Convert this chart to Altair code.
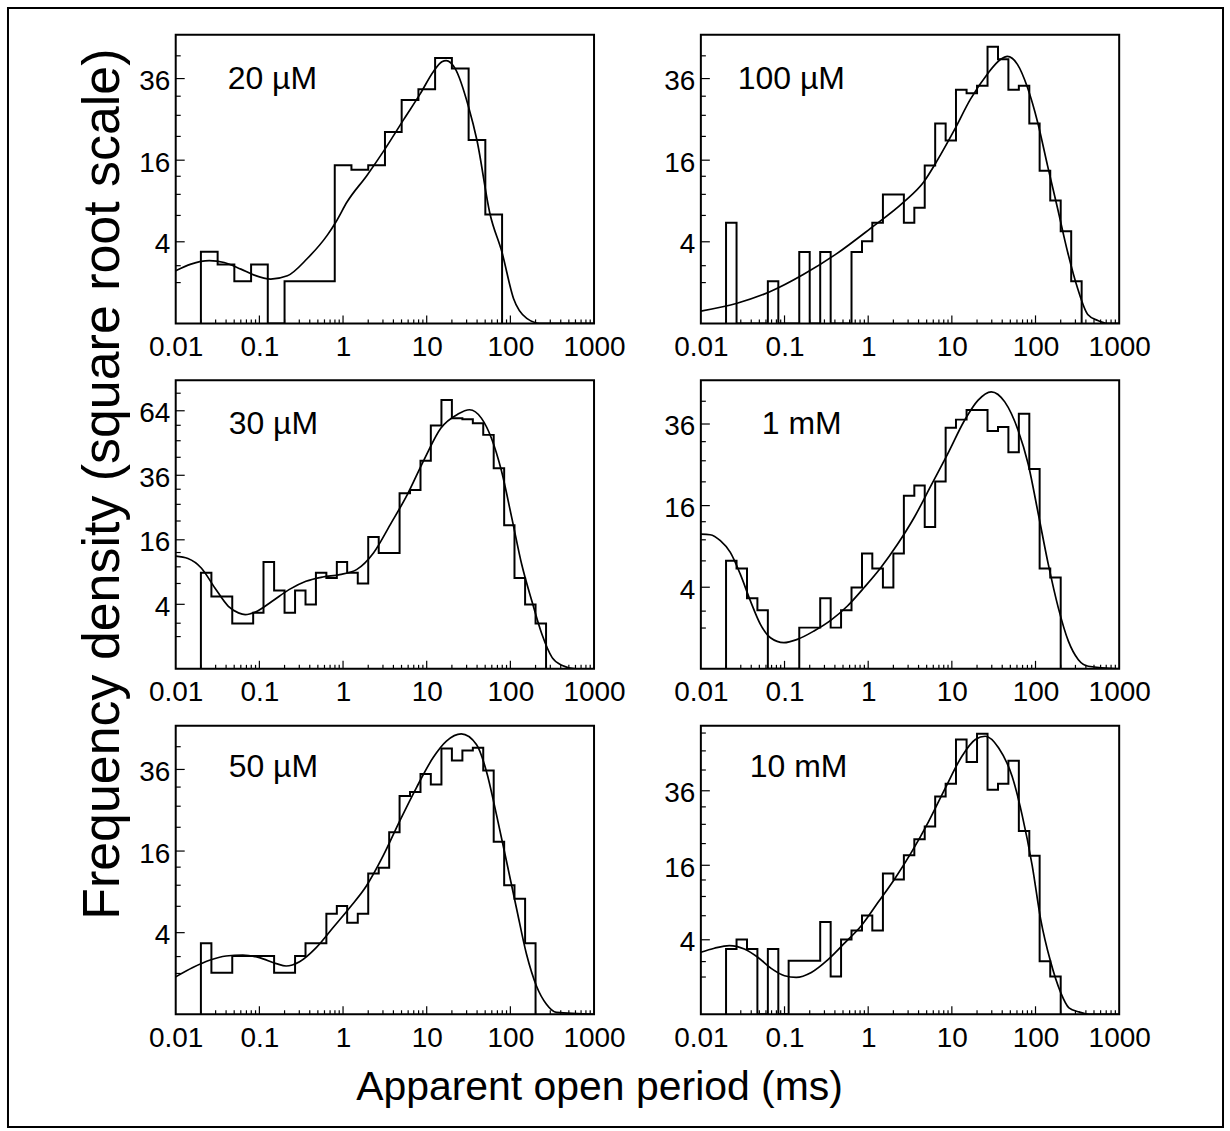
import altair as alt
import pandas as pd

FONT = "Liberation Sans"
W, H = 419, 289

# ---------------- panel metadata ----------------
LABELS = ["20 µM", "100 µM", "30 µM", "1 mM", "50 µM", "10 mM"]
LABEL_X = [52, 37, 53, 61, 53, 49]
LABEL_Y = [54, 54, 54, 54, 51, 51]
Y_MAX = [50, 50, 80, 50, 50, 60]
Y_LABELLED = [[4, 16, 36], [4, 16, 36], [4, 16, 36, 64], [4, 16, 36], [4, 16, 36], [4, 16, 36]]
Y_MINOR = [1, 2, 7, 10, 13, 21, 26, 31, 43, 50, 57, 73]
X_LABELLED = [0.01, 0.1, 1, 10, 100, 1000]
X_MAJOR = [0.1, 1, 10, 100]
X_MINOR = [0.02, 0.03, 0.04, 0.05, 0.06, 0.07, 0.08, 0.09,
           0.2, 0.3, 0.4, 0.5, 0.6, 0.7, 0.8, 0.9,
           2, 3, 4, 5, 6, 7, 8, 9,
           20, 30, 40, 50, 60, 70, 80, 90,
           200, 300, 400, 500, 600, 700, 800, 900]

# ---------------- histogram bin edges (ms) ----------------
EDGES_5 = [0.02, 0.0317, 0.0502, 0.0796, 0.126, 0.2, 0.317, 0.502, 0.796, 1.26,
           2.0, 3.17, 5.02, 7.96, 12.6, 20.0, 31.7, 50.2, 79.6]
EDGES_8 = [0.02, 0.0267, 0.0356, 0.0474, 0.0632, 0.0843, 0.112, 0.15,
           0.2, 0.267, 0.356, 0.474, 0.632, 0.843, 1.12, 1.5,
           2.0, 2.67, 3.56, 4.74, 6.32, 8.43, 11.2, 15.0,
           20.0, 26.7, 35.6, 47.4, 63.2, 84.3, 112, 150,
           200, 267, 356]

# ---------------- histogram heights ----------------
H_20uM = [3.08, 2.09, 1.07, 2.09, 0, 1.07, 1.07, 1.07, 15.0, 14.2, 15.0, 22.0,
          30.0, 32.9, 42.3, 39.0, 20.2, 7.13]
H_100uM = [6.09, 0, 0, 0, 1.07, 0, 0, 3.07, 0, 3.07, 0, 0, 3.07, 4.05, 6.09, 9.98,
           9.98, 6.09, 8.03, 14.97, 24.0, 20.1, 32.8, 31.8, 33.9, 46.0, 41.9, 32.8,
           33.9, 24.0, 14.0, 9.08, 5.09, 1.07]
H_30uM = [8.89, 5.02, 5.02, 1.97, 1.97, 3.01, 10.97, 5.88, 3.01, 5.88, 3.97, 8.89,
          7.94, 10.97, 8.89, 6.98, 16.7, 12.9, 12.9, 29.6, 30.7, 41.6, 56.9, 69.5,
          60.4, 59.9, 58.0, 52.6, 38.7, 19.8, 7.94, 3.97, 1.97]
H_1mM = [7.01, 6.05, 2.99, 2.06, 0, 0, 0, 1.02, 1.02, 2.99, 1.02, 2.06, 3.97, 8.00,
         6.05, 3.97, 8.00, 18.0, 20.2, 12.1, 21.1, 34.9, 37.3, 40.2, 40.2, 34.0,
         35.1, 28.2, 39.1, 24.0, 6.05, 5.01]
H_50uM = [3.02, 1.04, 1.04, 2.04, 2.04, 2.04, 2.04, 1.04, 1.04, 2.04, 3.02, 3.02,
          6.08, 7.04, 5.04, 6.08, 11.9, 12.9, 19.9, 28.6, 29.7, 34.7, 31.7, 42.4,
          38.7, 41.8, 42.7, 35.7, 17.9, 9.98, 8.02, 3.02]
H_10mM = [3.08, 4.02, 3.08, 0, 3.08, 0, 2.07, 2.07, 2.07, 6.12, 1.03, 4.02, 5.05,
          7.04, 5.05, 14.3, 13.1, 18.2, 22.1, 25.4, 34.2, 38.3, 54.4, 45.9, 56.7,
          36.3, 38.3, 46.3, 24.2, 18.1, 2.02, 1.03]

# ---------------- fitted curves (ms, density) ----------------
C_20uM_X = [0.01, 0.0152, 0.0252, 0.038, 0.0601, 0.0867, 0.137, 0.216, 0.374, 0.649,
            0.815, 1.12, 1.94, 3.21, 5.32, 8.39, 12.1, 15.2, 17.1, 21.9, 31.6, 39.8,
            57.3, 79.1, 109, 157, 226, 1000]
C_20uM_Y = [1.66, 2.11, 2.36, 2.23, 1.77, 1.40, 1.18, 1.36, 2.53, 4.68, 6.12, 8.88,
            13.2, 18.4, 25.0, 31.7, 38.2, 41.1, 41.5, 39.0, 28.2, 20.2, 7.13, 3.08,
            0.375, 0.015, 0, 0]
C_100uM_X = [0.01, 0.0265, 0.0667, 0.1675, 0.421, 1.057, 2.65, 4.61, 6.67, 10.6, 16.7,
             26.5, 38.4, 46.1, 60.8, 80.2, 106, 139, 184, 242, 319, 421, 555, 731, 1000]
C_100uM_Y = [0.09, 0.239, 0.599, 1.43, 2.92, 5.39, 8.83, 12.0, 15.9, 22.3, 30.2,
             37.3, 41.9, 42.8, 40.3, 33.4, 24.3, 15.0, 7.90, 3.06, 0.73, 0.048, 0.005, 0, 0]
C_30uM_X = [0.01, 0.014, 0.0202, 0.0294, 0.0426, 0.0562, 0.0678, 0.0895, 0.142, 0.226,
            0.36, 0.573, 0.912, 1.45, 2.31, 3.67, 5.84, 9.29, 14.8, 23.5, 32.5, 45.0,
            59.4, 78.5, 104, 137, 181, 239, 316, 418, 600, 1000]
C_30uM_Y = [12.2, 11.7, 9.78, 6.29, 3.76, 3.01, 2.83, 3.11, 4.39, 6.03, 7.37, 8.11,
            8.53, 9.46, 12.9, 20.0, 29.1, 42.0, 55.7, 62.3, 64.5, 60.4, 51.1, 37.5,
            21.9, 10.4, 4.39, 1.13, 0.12, 0.01, 0, 0]
C_1mM_X = [0.01, 0.0129, 0.0171, 0.0225, 0.0296, 0.0391, 0.0515, 0.0679, 0.0982, 0.142,
           0.225, 0.356, 0.565, 0.895, 1.42, 2.25, 3.56, 5.65, 8.95, 14.2, 20.5, 29.6,
           42.9, 61.9, 81.7, 108, 142, 187, 247, 325, 429, 1000]
C_1mM_Y = [10.9, 10.8, 9.86, 8.14, 5.38, 2.77, 1.19, 0.58, 0.41, 0.52, 0.86, 1.41,
           2.37, 3.97, 6.17, 9.35, 13.8, 20.2, 27.8, 37.1, 43.3, 46.1, 42.8, 34.2,
           25.2, 14.4, 6.58, 2.25, 0.46, 0.05, 0.004, 0]
C_50uM_X = [0.01, 0.016, 0.0253, 0.04, 0.0634, 0.1, 0.159, 0.209, 0.302, 0.478, 0.757,
            1.2, 1.9, 3.0, 4.75, 7.52, 11.9, 17.2, 25.9, 39.3, 51.7, 68.1, 89.8, 118,
            156, 205, 270, 356, 1000]
C_50uM_Y = [0.84, 1.31, 1.75, 2.04, 2.11, 1.93, 1.54, 1.40, 1.66, 2.67, 4.50, 6.82,
            9.88, 15.0, 22.4, 30.8, 39.5, 44.8, 47.2, 43.7, 35.5, 24.0, 14.1, 6.82,
            2.16, 0.48, 0.06, 0.002, 0]
C_10mM_X = [0.01, 0.0145, 0.0219, 0.0331, 0.0479, 0.0692, 0.1, 0.138, 0.209, 0.331,
            0.525, 0.832, 1.32, 2.09, 3.31, 5.25, 8.32, 13.2, 19.1, 25.1, 36.3, 52.5,
            69.2, 91.2, 115, 151, 200, 251, 331, 437, 1000]
C_10mM_Y = [2.77, 3.14, 3.40, 3.07, 2.34, 1.52, 1.07, 0.98, 1.26, 2.15, 3.67, 5.68,
            9.07, 13.3, 19.0, 26.7, 36.8, 48.0, 54.4, 55.7, 51.1, 40.8, 28.6, 16.0,
            6.57, 2.02, 0.34, 0.03, 0.004, 0, 0]

PANELS = [
    (EDGES_5, H_20uM, C_20uM_X, C_20uM_Y),
    (EDGES_8, H_100uM, C_100uM_X, C_100uM_Y),
    (EDGES_8, H_30uM, C_30uM_X, C_30uM_Y),
    (EDGES_8, H_1mM, C_1mM_X, C_1mM_Y),
    (EDGES_8, H_50uM, C_50uM_X, C_50uM_Y),
    (EDGES_8, H_10mM, C_10mM_X, C_10mM_Y),
]


def hist_frame(edges, heights):
    n = len(heights)
    t = [edges[0]] + list(edges[:n]) + [edges[n]]
    f = [0] + list(heights) + [0]
    return pd.DataFrame({"t": t, "f": f, "i": list(range(len(t)))})


def make_panel(k):
    edges, heights, cx, cy = PANELS[k]
    xs = alt.Scale(type="log", domain=[0.01, 1000], nice=False)
    ys = alt.Scale(type="sqrt", domain=[0, Y_MAX[k]], nice=False, zero=True)
    xaxis = alt.Axis(values=X_LABELLED, format=".2~f", labelFontSize=28, labelFont=FONT,
                     labelColor="black", labelPadding=10, labelFlush=False,
                     labelOverlap=False, ticks=False, tickSize=0, domain=False,
                     grid=False, title=None)
    yaxis = alt.Axis(values=Y_LABELLED[k], format="d", labelFontSize=28, labelFont=FONT,
                     labelColor="black", labelPadding=6, labelOffset=3, labelFlush=False,
                     labelOverlap=False, ticks=False, tickSize=0, domain=False,
                     grid=False, title=None)

    def X(field):
        return alt.X(field, type="quantitative", scale=xs, axis=xaxis)

    def Y(field):
        return alt.Y(field, type="quantitative", scale=ys, axis=yaxis)

    hist = alt.Chart(hist_frame(edges, heights)).mark_line(
        interpolate="step-after", color="black", strokeWidth=2, clip=True
    ).encode(x=X("t"), y=Y("f"), order=alt.Order("i:Q"))
    cdf = pd.DataFrame({"t": cx, "f": cy, "i": list(range(len(cx)))})
    curve = alt.Chart(cdf).mark_line(
        interpolate="monotone", color="black", strokeWidth=1.7, clip=True
    ).encode(x=X("t"), y=Y("f"), order=alt.Order("i:Q"))
    xminor = alt.Chart(pd.DataFrame({"t": X_MINOR})).mark_rule(color="black", strokeWidth=1.2).encode(
        x=X("t"), y=alt.value(H), y2=alt.value(H - 4))
    xmajor = alt.Chart(pd.DataFrame({"t": X_MAJOR})).mark_rule(color="black", strokeWidth=1.2).encode(
        x=X("t"), y=alt.value(H), y2=alt.value(H - 8))
    ymin_vals = [v for v in Y_MINOR if v < Y_MAX[k]]
    yminor = alt.Chart(pd.DataFrame({"f": ymin_vals})).mark_rule(color="black", strokeWidth=1.2).encode(
        y=Y("f"), x=alt.value(0), x2=alt.value(5))
    ymajor = alt.Chart(pd.DataFrame({"f": Y_LABELLED[k]})).mark_rule(color="black", strokeWidth=1.2).encode(
        y=Y("f"), x=alt.value(0), x2=alt.value(9))
    lab = alt.Chart(pd.DataFrame({"d": [0]})).mark_text(
        text=LABELS[k], font=FONT, fontSize=32, align="left", baseline="alphabetic", color="black"
    ).encode(x=alt.value(LABEL_X[k]), y=alt.value(LABEL_Y[k]))

    layers = [hist, curve, xminor, xmajor, yminor, ymajor, lab]
    if k == 0:
        dummy = pd.DataFrame({"d": [0]})
        border = alt.Chart(dummy).mark_rect(fillOpacity=0, stroke="black", strokeWidth=2).encode(
            x=alt.value(-168), x2=alt.value(1049), y=alt.value(-27), y2=alt.value(1094))
        ytitle = alt.Chart(dummy).mark_text(
            text="Frequency density (square root scale)", font=FONT, fontSize=52, angle=270,
            align="center", baseline="middle", color="black"
        ).encode(x=alt.value(-73), y=alt.value(450))
        xtitle = alt.Chart(dummy).mark_text(
            text="Apparent open period (ms)", font=FONT, fontSize=41,
            align="center", baseline="alphabetic", color="black"
        ).encode(x=alt.value(424.5), y=alt.value(1067))
        layers += [border, ytitle, xtitle]
    return alt.layer(*layers).properties(width=W, height=H)


panels = [make_panel(k) for k in range(6)]

chart = alt.concat(
    *panels, columns=2, spacing={"row": 57, "column": 107}, bounds="flush"
).properties(
    padding={"left": 6, "top": 5, "right": 5, "bottom": 3}
).configure_view(
    stroke="black", strokeWidth=2
)

chart.save("out.html", embed_options={"renderer": "svg", "actions": False})
